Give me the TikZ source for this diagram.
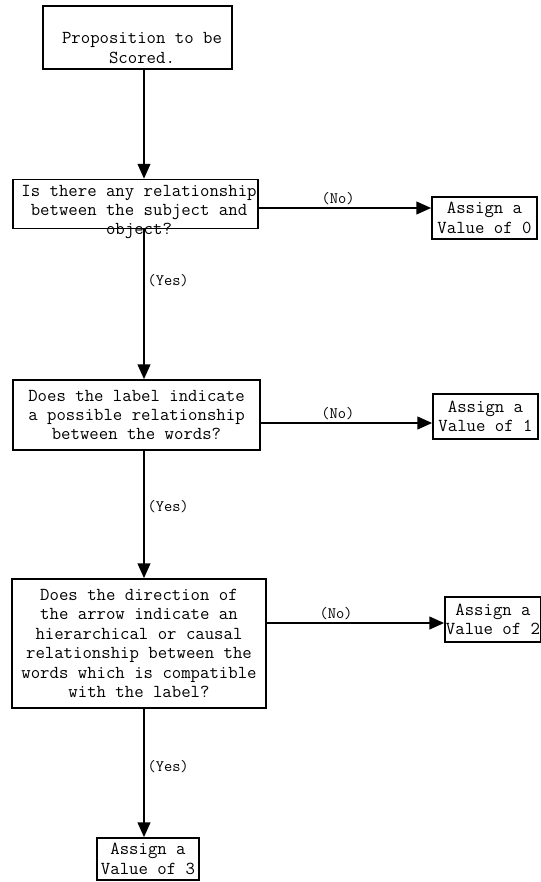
\documentclass[tikz,border=0pt]{standalone}
\usepackage{fontspec}
\usetikzlibrary{arrows.meta}

\begin{document}
\begin{tikzpicture}[x=0.75pt, y=-0.75pt,
   box/.style={draw, line width=1.3pt, inner sep=0pt},
   txt/.style={align=center, inner sep=0pt, font=\ttfamily\fontsize{13.7}{14.6}\selectfont},
   valbox/.style={box, txt, inner xsep=3pt, minimum height=32pt},
   arrow/.style={line width=1.3pt, -{Triangle[length=11pt, width=9.5pt]}},
   lbl/.style={font=\ttfamily\fontsize{12}{13}\selectfont, inner sep=2pt}]

   \useasboundingbox (0,0) rectangle (540,882);

   % 縦の線
   \coordinate (spine) at (144,0);

   % 箱
   \node [box, minimum width=141.75pt, minimum height=47.25pt] (prop) at (137.5,37.5) {};
   \node [txt] at (142,48) {Proposition to be\\Scored.};

   \node [box, minimum width=183.75pt, minimum height=36.75pt] (q1) at (135.5,204) {};
   \node [txt] at (139,212) {Is there any relationship\\between the subject and\\object?};
   \node [valbox, minimum width=78.75pt] (v0) at (484.5,218) {Assign a\\Value of 0};

   \node [box, txt, minimum width=185.25pt, minimum height=52.5pt] (q2) at (136.5,415)
      {Does the label indicate\\a possible relationship\\between the words?};
   \node [valbox, minimum width=78.75pt, minimum height=33.75pt] (v1) at (485.5,416.5) {Assign a\\Value of 1};

   \node [box, txt, minimum width=190.5pt, minimum height=96.75pt] (q3) at (139,643.5)
      {Does the direction of\\the arrow indicate an\\hierarchical or causal\\relationship between the\\words which is compatible\\with the label?};
   \node [valbox, inner xsep=0pt, minimum width=72pt, minimum height=33.75pt] (v2) at (493,619.5) {Assign a\\Value of 2};

   \node [valbox, minimum width=76.5pt, minimum height=31.5pt] (v3) at (148,859) {Assign a\\Value of 3};

   % 矢印 (Yes)
   \draw [arrow] (prop.south -| spine) -- (q1.north -| spine);
   \draw [arrow] (q1.south -| spine) -- node [lbl, pos=0.34, anchor=west]{(Yes)} (q2.north -| spine);
   \draw [arrow] (q2.south -| spine) -- node [lbl, pos=0.44, anchor=west]{(Yes)} (q3.north -| spine);
   \draw [arrow] (q3.south -| spine) -- node [lbl, pos=0.45, anchor=west]{(Yes)} (v3.north -| spine);

   % 矢印 (No)
   \coordinate (no0) at (0,208);
   \coordinate (no1) at (0,423);
   \coordinate (no2) at (0,623);
   \draw [arrow] (q1.east |- no0) -- node [lbl, pos=0.46, above]{(No)} (v0.west |- no0);
   \draw [arrow] (q2.east |- no1) -- node [lbl, pos=0.45, above]{(No)} (v1.west |- no1);
   \draw [arrow] (q3.east |- no2) -- node [lbl, pos=0.39, above]{(No)} (v2.west |- no2);

\end{tikzpicture}
\end{document}
